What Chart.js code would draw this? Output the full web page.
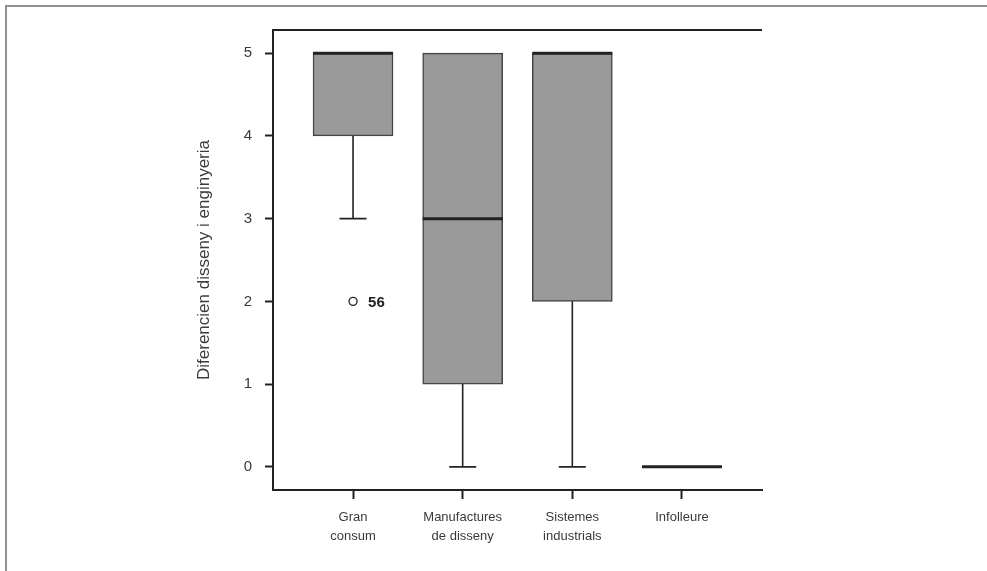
<!DOCTYPE html>
<html>
<head>
<meta charset="utf-8">
<script src="https://cdn.jsdelivr.net/npm/chart.js@4"></script>
<style>
  html, body { margin: 0; padding: 0; background: #fff; }
  #wrap { width: 987px; height: 571px; }
</style>
</head>
<body>
<div id="wrap"><canvas id="myChart" width="987" height="571"></canvas></div>
<script>
// box plot values
const categories = [["Gran", "consum"], ["Manufactures", "de disseny"], ["Sistemes", "industrials"], ["Infolleure"]];
const mins = [3, 0, 0, 0];
const q1s = [4, 1, 2, 0];
const medians = [5, 3, 5, 0];
const q3s = [5, 5, 5, 0];
const maxs = [5, 5, 5, 0];
// outliers: category index (1-based), value, case label
const outlierCats = [1];
const outlierVals = [2];
const outlierLabels = ["56"];
const yTicks = [0, 1, 2, 3, 4, 5];
const yTitle = "Diferencien disseny i enginyeria";

const FONT = "'Liberation Sans', Arial, sans-serif";
const INK = "#222";

const boxData = [];
for (let i = 0; i < categories.length; i++) {
  if (q3s[i] > q1s[i]) boxData.push({ x: i + 1, y: [q1s[i], q3s[i]] });
}
const outlierData = outlierCats.map((c, i) => ({ x: c, y: outlierVals[i] }));

const boxExtras = {
  id: "boxExtras",
  beforeDraw(chart) {
    const ctx = chart.ctx;
    ctx.save();
    ctx.fillStyle = "#fff";
    ctx.fillRect(0, 0, chart.width, chart.height);
    // outer frame (top and left edges)
    ctx.strokeStyle = "#919191";
    ctx.lineWidth = 2;
    ctx.beginPath();
    ctx.moveTo(6, chart.height);
    ctx.lineTo(6, 6);
    ctx.lineTo(chart.width, 6);
    ctx.stroke();
    ctx.restore();
  },
  afterDatasetsDraw(chart) {
    const ctx = chart.ctx;
    const xs = chart.scales.x;
    const ys = chart.scales.y;
    const area = chart.chartArea;
    const boxW = 80;
    const capW = 27;
    ctx.save();
    // top line of the plot frame
    ctx.strokeStyle = INK;
    ctx.lineWidth = 2;
    ctx.beginPath();
    ctx.moveTo(area.left - 1, area.top);
    ctx.lineTo(area.right, area.top);
    ctx.stroke();

    for (let i = 0; i < categories.length; i++) {
      const cx = xs.getPixelForValue(i + 1);
      ctx.strokeStyle = INK;
      ctx.lineWidth = 1.6;
      if (mins[i] < q1s[i]) {
        const a = ys.getPixelForValue(q1s[i]);
        const b = ys.getPixelForValue(mins[i]);
        ctx.beginPath();
        ctx.moveTo(cx, a);
        ctx.lineTo(cx, b);
        ctx.moveTo(cx - capW / 2, b);
        ctx.lineTo(cx + capW / 2, b);
        ctx.stroke();
      }
      if (maxs[i] > q3s[i]) {
        const a = ys.getPixelForValue(q3s[i]);
        const b = ys.getPixelForValue(maxs[i]);
        ctx.beginPath();
        ctx.moveTo(cx, a);
        ctx.lineTo(cx, b);
        ctx.moveTo(cx - capW / 2, b);
        ctx.lineTo(cx + capW / 2, b);
        ctx.stroke();
      }
      // median
      const my = ys.getPixelForValue(medians[i]);
      ctx.lineWidth = 3;
      ctx.beginPath();
      ctx.moveTo(cx - boxW / 2, my);
      ctx.lineTo(cx + boxW / 2, my);
      ctx.stroke();
    }

    // outlier case labels
    ctx.fillStyle = INK;
    ctx.font = "bold 15px " + FONT;
    ctx.textAlign = "left";
    ctx.textBaseline = "middle";
    outlierCats.forEach((c, i) => {
      ctx.fillText(outlierLabels[i], xs.getPixelForValue(c) + 15, ys.getPixelForValue(outlierVals[i]) + 1);
    });
    ctx.restore();
  },
};

const ctx = document.getElementById("myChart").getContext("2d");
const myChart = new Chart(ctx, {
  type: "bar",
  data: {
    datasets: [
      {
        data: boxData,
        backgroundColor: "#9a9a9a",
        borderColor: "#444",
        borderWidth: 1.5,
        borderSkipped: false,
        barThickness: 80,
      },
      {
        type: "scatter",
        data: outlierData,
        pointStyle: "circle",
        pointRadius: 4,
        pointBackgroundColor: "#fff",
        pointBorderColor: INK,
        pointBorderWidth: 1.3,
      },
    ],
  },
  options: {
    responsive: false,
    animation: false,
    layout: { padding: { left: 194, top: 30, right: 225, bottom: 0 } },
    plugins: { legend: { display: false }, tooltip: { enabled: false } },
    scales: {
      x: {
        type: "linear",
        offset: false,
        min: 0.27,
        max: 4.73,
        afterBuildTicks: (scale) => {
          scale.ticks = categories.map((_, i) => ({ value: i + 1 }));
        },
        afterFit: (scale) => {
          scale.height = 81;
        },
        grid: { display: true, offset: false, drawOnChartArea: false, drawTicks: true, tickLength: 9, color: INK, tickWidth: 2 },
        border: { display: true, color: INK, width: 2 },
        ticks: {
          color: "#3a3a3a",
          padding: 9,
          maxRotation: 0,
          autoSkip: false,
          font: { family: FONT, size: 13, lineHeight: 1.45 },
          callback: (value) => categories[value - 1] || "",
        },
      },
      y: {
        type: "linear",
        min: -0.28,
        max: 5.28,
        afterBuildTicks: (scale) => {
          scale.ticks = yTicks.map((v) => ({ value: v }));
        },
        afterFit: (scale) => {
          scale.width = 79;
        },
        grid: { display: true, drawOnChartArea: false, drawTicks: true, tickLength: 8, color: INK, tickWidth: 2 },
        border: { display: true, color: INK, width: 2 },
        ticks: {
          color: "#3a3a3a",
          padding: 13,
          font: { family: FONT, size: 15 },
        },
        title: {
          display: true,
          text: yTitle,
          color: "#3a3a3a",
          padding: { top: 0, bottom: 0 },
          font: { family: FONT, size: 17, lineHeight: 1.2 },
        },
      },
    },
  },
  plugins: [boxExtras],
});
</script>
</body>
</html>
